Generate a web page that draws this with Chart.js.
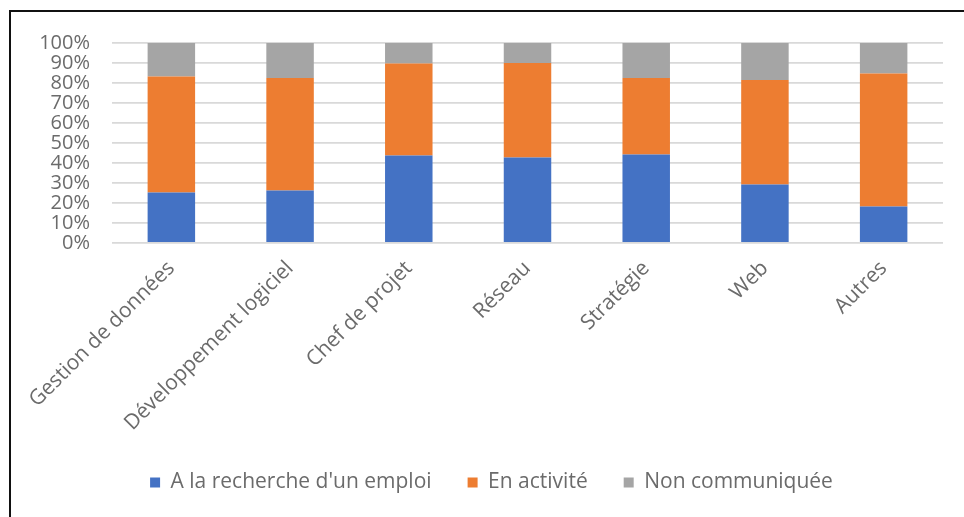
<!DOCTYPE html>
<html>
<head>
<meta charset="utf-8">
<script src="https://cdn.jsdelivr.net/npm/chart.js@4.4.1/dist/chart.umd.min.js"></script>
<style>
  html, body { margin: 0; padding: 0; background: #fff; }
  #frame { position: absolute; left: 9px; top: 10px; width: 970px; height: 520px;
           border-top: 2px solid #111; border-left: 2px solid #111; }
  #wrap { position: absolute; left: 0; top: 0; width: 964px; height: 517px; }
</style>
</head>
<body>
<div id="frame"></div>
<div id="wrap"><canvas id="chart"></canvas></div>
<script>
    const categories = ['Gestion de données', 'Développement logiciel', 'Chef de projet', 'Réseau', 'Stratégie', 'Web', 'Autres'];
    const rechercheEmploi = [25.2, 26.3, 43.8, 42.7, 44.3, 29.2, 18.2];
    const enActivite = [58.1, 56.2, 46.0, 47.3, 38.2, 52.3, 66.6];
    const nonCommuniquee = [16.7, 17.5, 10.2, 10.0, 17.5, 18.5, 15.2];
    const yTicks = [0, 10, 20, 30, 40, 50, 60, 70, 80, 90, 100];

    const tickColor = '#6b6b6b';
    const fontFamily = "'Open Sans', 'Noto Sans', sans-serif";

    const ctx = document.getElementById('chart').getContext('2d');

    new Chart(ctx, {
        type: 'bar',
        data: {
            labels: categories,
            datasets: [
                { label: "A la recherche d'un emploi", data: rechercheEmploi, backgroundColor: '#4472C4' },
                { label: 'En activité', data: enActivite, backgroundColor: '#ED7D31' },
                { label: 'Non communiquée', data: nonCommuniquee, backgroundColor: '#A5A5A5' }
            ]
        },
        options: {
            responsive: true,
            maintainAspectRatio: false,
            animation: false,
            datasets: { bar: { categoryPercentage: 1, barPercentage: 0.4 } },
            // left padding nudges the legend right, y axis width compensates
            layout: { padding: { left: 40, right: 21, top: 43, bottom: 14 } },
            scales: {
                x: {
                    stacked: true,
                    grid: { display: false },
                    border: { display: false },
                    ticks: {
                        color: tickColor,
                        font: { family: fontFamily, size: 21 },
                        minRotation: 45,
                        maxRotation: 45,
                        padding: 5
                    },
                    afterFit: (scale) => { scale.height = 193; }
                },
                y: {
                    stacked: true,
                    min: 0,
                    max: 100,
                    afterBuildTicks: (scale) => { scale.ticks = yTicks.map(v => ({ value: v })); },
                    grid: { color: '#d9d9d9', lineWidth: 1.8, drawTicks: false },
                    border: { display: false },
                    ticks: {
                        color: tickColor,
                        font: { family: fontFamily, size: 20 },
                        padding: 22,
                        autoSkip: false,
                        callback: (v) => v + '%'
                    },
                    afterFit: (scale) => { scale.width = 72; }
                }
            },
            plugins: {
                tooltip: { enabled: false },
                legend: {
                    position: 'bottom',
                    labels: {
                        color: tickColor,
                        font: { family: fontFamily, size: 21 },
                        boxWidth: 10,
                        boxHeight: 10,
                        padding: 36
                    }
                }
            }
        }
    });
</script>
</body>
</html>
